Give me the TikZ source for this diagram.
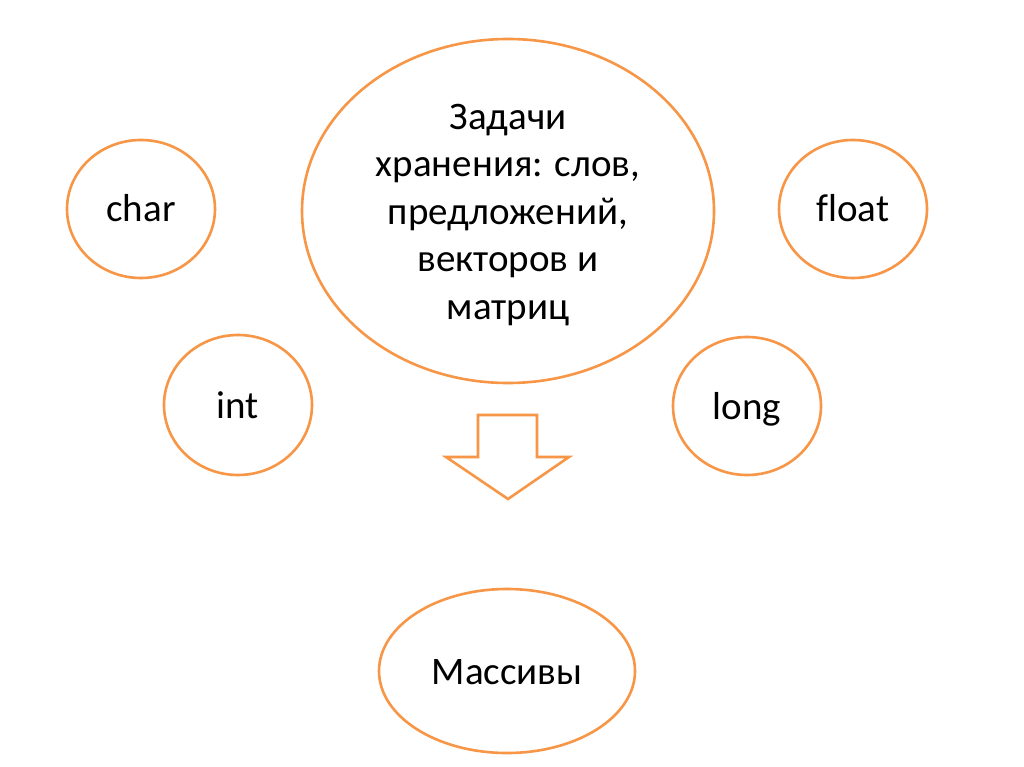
\documentclass[tikz,border=0pt]{standalone}
\usepackage{fontspec}
\setmainfont[Ligatures=NoCommon]{Carlito}
\usetikzlibrary{shapes.geometric}
\begin{document}
\begin{tikzpicture}[x=1pt,y=-1pt,
  oval/.style={draw=orangeline,line width=2.6pt,ellipse,fill=white,font=\fontsize{39}{48}\selectfont,align=center,inner sep=0pt,text height=29pt,text depth=3pt},
  bigtext/.style={font=\fontsize{39}{47.5}\selectfont,align=center,inner sep=0pt},
  arrowshape/.style={draw=orangeline,line width=2.6pt,line join=miter,fill=white}]
\definecolor{orangeline}{HTML}{F79646}
\useasboundingbox (0,0) rectangle (1024,767);
\fill[white] (0,0) rectangle (1024,767);
\node[oval,minimum width=148pt,minimum height=138pt] (char) at (141,209) {char};
\node[oval,minimum width=148pt,minimum height=138pt] (float) at (853,209) {float};
\node[oval,minimum width=148pt,minimum height=140pt] (int) at (238,405) {int};
\node[oval,minimum width=148pt,minimum height=138pt] (long) at (747,406) {long};
\node[oval,minimum width=412pt,minimum height=344pt] (main) at (508,211) {};
\node[bigtext] (maintext) at (508,215) {Задачи\\хранения: слов,\\предложений,\\векторов и\\матриц};
\node[oval,minimum width=256pt,minimum height=164pt] (arr) at (507,671) {Массивы};
\coordinate (a1) at (478,415);
\coordinate (a2) at (537,415);
\coordinate (a3) at (537,457);
\coordinate (a4) at (569,457);
\coordinate (a5) at (508,499);
\coordinate (a6) at (446,457);
\coordinate (a7) at (478,457);
\draw[arrowshape] (a1) -- (a2) -- (a3) -- (a4) -- (a5) -- (a6) -- (a7) -- cycle;
\end{tikzpicture}
\end{document}
